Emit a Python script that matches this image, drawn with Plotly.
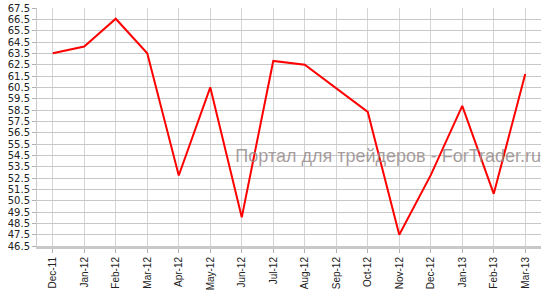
import plotly.graph_objects as go

months = ["Dec-11", "Jan-12", "Feb-12", "Mar-12", "Apr-12", "May-12", "Jun-12", "Jul-12",
          "Aug-12", "Sep-12", "Oct-12", "Nov-12", "Dec-12", "Jan-13", "Feb-13", "Mar-13"]
values = [63.5, 64.1, 66.55, 63.5, 52.72, 60.5, 49.03, 62.83,
          62.5, 60.4, 58.33, 47.5, 52.75, 58.87, 51.1, 61.68]
y_ticks = [46.5 + i for i in range(22)]
watermark = "Портал для трейдеров - ForTrader.ru"

fig = go.Figure()

# watermark behind the line
fig.add_trace(go.Scatter(
    x=[1.0], y=[0.37], mode="text", text=[watermark], textposition="middle left",
    textfont=dict(family="Liberation Sans, Arial", size=18, color="rgba(150,140,140,0.85)"),
    xaxis="x2", yaxis="y2", hoverinfo="skip", showlegend=False,
))

fig.add_trace(go.Scatter(
    x=months, y=values, mode="lines",
    line=dict(color="#ff0000", width=2),
    showlegend=False,
))

fig.update_layout(
    width=551, height=292,
    margin=dict(l=37, r=10, t=8, b=46),
    paper_bgcolor="white", plot_bgcolor="white",
    xaxis=dict(
        type="category", categoryorder="array", categoryarray=months,
        range=[-0.5, 15.5], automargin=False,
        showgrid=True, gridcolor="#d4d4d4", gridwidth=1,
        showline=True, linecolor="#c8c8c8", linewidth=3,
        ticks="outside", ticklen=4, tickcolor="#b0b0b0",
        tickangle=-90,
        tickfont=dict(family="Liberation Sans, Arial", size=10, color="#222"),
        zeroline=False, fixedrange=True,
    ),
    yaxis=dict(
        range=[46.5, 67.5], automargin=False,
        tickmode="array", tickvals=y_ticks, ticktext=[f"{v:.1f}" for v in y_ticks],
        showgrid=True, gridcolor="#c8c8c8", gridwidth=1,
        showline=True, linecolor="#c8c8c8", linewidth=1,
        ticks="outside", ticklen=4, tickcolor="#b0b0b0",
        tickfont=dict(family="DejaVu Sans, Verdana", size=10, color="#222"),
        zeroline=False, fixedrange=True,
    ),
    xaxis2=dict(overlaying="x", range=[0, 1], visible=False, fixedrange=True),
    yaxis2=dict(overlaying="y", range=[0, 1], visible=False, fixedrange=True),
)

fig.write_html("out.html")
